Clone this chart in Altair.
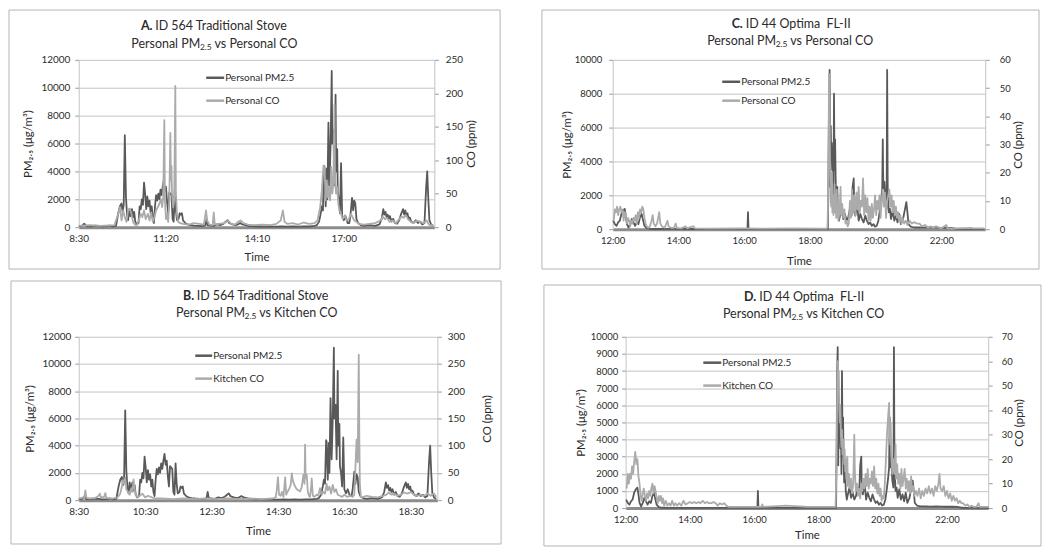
import altair as alt
import pandas as pd

# ---------------- data: (minutes after midnight, value) ----------------
PM_564 = [
    (510, 60), (516, 100), (520, 250), (524, 80), (532, 60), (540, 120), (546, 100), (552, 50), (560, 80),
    (566, 120), (572, 60), (578, 100),
    (582, 1000), (585, 1500), (588, 1700), (590, 1100), (592, 1600), (594, 6600), (596, 2200), (598, 900),
    (600, 500), (602, 1300), (604, 800), (607, 1300), (609, 700), (611, 1100), (613, 400), (616, 200),
    (619, 300), (621, 1500), (623, 1300), (625, 2000), (627, 1600), (629, 3200), (631, 2400), (633, 1300),
    (635, 2200), (637, 1500), (639, 1900), (641, 1000), (643, 1500), (645, 600), (647, 300),
    (649, 1500), (651, 2300), (653, 1900), (655, 2400), (657, 2000), (659, 2700), (661, 2300), (663, 2900),
    (665, 3400), (667, 2600), (669, 2900), (671, 1800), (673, 1000), (675, 2500), (677, 2400), (679, 2300),
    (681, 600), (683, 400), (685, 2700), (687, 1200), (689, 500),
    (692, 600), (694, 1000), (696, 900), (698, 1000), (700, 500), (704, 300), (708, 200), (714, 150),
    (720, 120), (728, 100), (736, 80), (741, 150), (743, 600), (745, 150), (750, 120),
    (756, 100), (762, 200), (768, 150), (774, 250), (778, 400), (781, 500), (784, 300), (790, 200),
    (796, 150), (800, 200), (804, 300), (808, 200), (814, 150), (820, 80), (830, 60), (840, 50), (850, 40),
    (860, 40), (870, 40), (880, 50), (890, 40), (900, 50), (910, 40), (920, 60), (930, 50), (940, 100),
    (944, 150), (948, 400), (951, 1000), (953, 1500), (955, 1200), (957, 4400), (958, 4300), (960, 1500),
    (962, 4200), (963, 2000), (965, 7500), (967, 3000), (969, 6000), (971, 11200), (972, 6000), (974, 7000),
    (976, 3000), (978, 9500), (979, 4000), (981, 5600), (982, 2500), (984, 2000), (986, 1000), (988, 4600),
    (990, 800), (993, 500), (996, 800), (1000, 300),
    (1003, 300), (1005, 800), (1008, 2100), (1010, 1200), (1012, 1900), (1014, 1700), (1016, 600),
    (1019, 300), (1024, 150), (1030, 100), (1040, 150), (1050, 100), (1058, 200), (1062, 600), (1065, 1300),
    (1067, 900), (1069, 1100), (1071, 700), (1073, 900), (1075, 600), (1077, 800), (1080, 400), (1083, 600),
    (1086, 300), (1090, 250), (1094, 500), (1097, 900), (1099, 1100), (1101, 1300), (1103, 900), (1105, 1200),
    (1107, 800), (1109, 1000), (1111, 600), (1113, 700), (1116, 400), (1120, 300), (1124, 500), (1128, 300),
    (1132, 400), (1136, 200), (1140, 300), (1143, 2800), (1145, 4000), (1147, 2000), (1149, 500),
    (1152, 200), (1156, 100),
]

CO_PERSONAL_564 = [
    (510, 2), (530, 3), (550, 2), (575, 3), (582, 20), (585, 30), (588, 10), (591, 25), (594, 15), (597, 8),
    (600, 25), (603, 28), (606, 20), (609, 8), (612, 4), (616, 3), (620, 12), (623, 20), (626, 15), (629, 25),
    (632, 12), (636, 20), (639, 10), (642, 22), (645, 8), (648, 15), (651, 25), (654, 30), (657, 35), (660, 42),
    (662, 30), (664, 45), (666, 160), (667, 40), (669, 12), (671, 20), (673, 8), (675, 40), (677, 141),
    (678, 70), (679, 92), (680, 52), (682, 30), (684, 40), (686, 211), (687, 52), (689, 20), (691, 8),
    (695, 6), (700, 5), (710, 4), (720, 6), (730, 5), (738, 4), (742, 25), (744, 10), (748, 4), (754, 3),
    (756, 22), (758, 4), (765, 5), (775, 6), (782, 10), (788, 5), (795, 4), (800, 8), (805, 10), (810, 6),
    (818, 4), (830, 3), (845, 4), (860, 3), (870, 5), (878, 10), (882, 25), (885, 8), (890, 5), (900, 6),
    (910, 4), (920, 7), (930, 5), (940, 6), (945, 10), (950, 30), (953, 55), (956, 92), (958, 88), (960, 40),
    (962, 70), (964, 45), (966, 60), (968, 40), (970, 90), (972, 50), (974, 65), (976, 183), (977, 70),
    (979, 50), (981, 60), (983, 35), (985, 25), (988, 20), (991, 12), (995, 18), (998, 10), (1002, 12),
    (1006, 20), (1009, 15), (1012, 10), (1016, 8), (1020, 5), (1030, 4), (1040, 5), (1050, 6), (1060, 10),
    (1064, 16), (1068, 12), (1072, 14), (1076, 8), (1082, 10), (1088, 6), (1094, 12), (1098, 16), (1102, 14),
    (1106, 18), (1110, 12), (1115, 8), (1120, 6), (1126, 10), (1132, 8), (1138, 6), (1144, 10), (1148, 4),
    (1152, 3), (1156, 2),
]

CO_KITCHEN_564 = [
    (510, 3), (516, 4), (520, 6), (522, 18), (524, 4), (530, 3), (540, 4), (546, 8), (548, 12), (550, 5),
    (556, 6), (558, 13), (560, 4), (570, 3), (580, 5), (585, 12), (588, 25), (590, 37), (592, 30), (594, 41),
    (596, 20), (599, 15), (602, 10), (605, 22), (607, 15), (609, 38), (611, 20), (613, 10), (616, 6),
    (620, 8), (625, 12), (630, 5), (635, 8), (640, 6), (645, 4), (650, 3), (660, 3), (680, 2), (700, 3),
    (720, 2), (740, 3), (760, 2), (780, 3), (800, 2), (820, 3), (840, 2), (860, 3), (866, 5), (868, 20),
    (870, 42), (872, 10), (875, 8), (877, 15), (880, 6), (883, 42), (885, 10), (887, 15), (890, 20),
    (893, 28), (895, 49), (897, 35), (899, 30), (901, 25), (904, 20), (907, 18), (910, 16), (913, 24),
    (916, 47), (918, 30), (919, 102), (920, 40), (922, 47), (924, 15), (926, 8), (928, 6), (930, 25),
    (931, 40), (933, 8), (936, 6), (940, 10), (943, 8), (946, 22), (949, 10), (952, 15), (955, 12),
    (958, 30), (960, 18), (963, 25), (966, 12), (969, 28), (972, 15), (975, 20), (978, 10), (982, 8),
    (986, 6), (990, 10), (995, 6), (1000, 8), (1005, 6), (1008, 10), (1010, 60), (1012, 111), (1014, 70),
    (1016, 267), (1017, 120), (1018, 30), (1020, 5), (1025, 6), (1030, 8), (1040, 6), (1050, 5), (1060, 8),
    (1066, 10), (1070, 14), (1075, 10), (1080, 12), (1086, 8), (1092, 10), (1098, 14), (1104, 12),
    (1110, 15), (1116, 10), (1122, 8), (1128, 10), (1134, 8), (1140, 12), (1146, 8), (1152, 12), (1156, 6),
]

PM_44 = [
    (721, 500), (724, 300), (727, 200), (730, 400), (733, 500), (736, 900), (739, 1100), (742, 1200),
    (744, 800), (746, 300), (749, 100), (752, 300), (755, 600), (758, 400), (761, 200), (764, 400),
    (767, 300), (770, 700), (773, 900), (775, 600), (778, 200), (782, 60), (788, 20), (800, 10), (830, 15),
    (860, 10), (900, 10), (940, 15), (966, 10), (967, 1000), (968, 10), (1000, 10), (1050, 15), (1100, 10),
    (1110, 15), (1113, 20),
    (1114, 3700), (1115, 8000), (1116, 9400), (1117, 2500), (1118, 6100), (1119, 4000), (1120, 5100),
    (1121, 3500), (1122, 4500), (1123, 2000), (1124, 8000), (1125, 3500), (1126, 5300), (1127, 3000),
    (1128, 1500), (1130, 2500), (1131, 1000), (1133, 500), (1135, 800), (1138, 1200), (1141, 600),
    (1144, 900), (1147, 500), (1150, 700), (1153, 1200), (1156, 800), (1158, 2500), (1160, 3000),
    (1161, 1000), (1163, 800), (1166, 1500), (1169, 500), (1172, 900), (1175, 600), (1178, 400),
    (1181, 800), (1184, 500), (1187, 300), (1190, 400), (1193, 200), (1196, 300), (1199, 150), (1202, 200),
    (1205, 500), (1208, 1200), (1210, 1700), (1212, 2400), (1213, 5300), (1214, 2400), (1216, 2800),
    (1218, 1600), (1220, 1200), (1221, 9400), (1222, 2500), (1224, 1000), (1226, 1200), (1228, 600),
    (1231, 1100), (1234, 500), (1237, 800), (1240, 400), (1243, 900), (1246, 300), (1250, 600),
    (1253, 1100), (1256, 1600), (1258, 1000), (1260, 300), (1264, 150), (1270, 100), (1280, 100),
    (1290, 90), (1300, 100), (1310, 90), (1320, 80), (1330, 80), (1340, 70), (1346, 30), (1350, 20),
    (1360, 15), (1370, 15), (1380, 10), (1390, 10), (1398, 10),
]

CO_PERSONAL_44 = [
    (722, 3), (724, 7), (726, 6), (728, 8), (730, 5), (732, 7), (734, 8), (736, 6), (738, 7), (740, 3),
    (742, 6), (744, 5), (746, 2), (748, 4), (750, 3), (752, 1), (754, 3), (756, 2), (758, 4), (760, 3),
    (762, 5), (764, 2), (766, 6), (768, 4), (770, 7), (772, 6), (774, 8), (776, 7), (778, 4), (780, 2),
    (782, 1), (785, 0.5), (788, 1), (791, 3), (793, 5), (795, 2), (798, 1), (801, 2), (803, 4), (805, 6),
    (807, 2), (810, 1), (815, 0.5), (818, 2), (820, 3), (822, 1), (826, 0.5), (832, 0.5), (835, 2),
    (837, 0.5), (845, 0.3), (853, 1), (856, 0.3), (866, 1), (868, 1), (870, 0.3), (900, 0.2), (950, 0.3),
    (1000, 0.2), (1050, 0.3), (1100, 0.2), (1110, 0.2),
    (1112, 0.5), (1113, 8), (1114, 30), (1115, 55), (1116, 40), (1117, 20), (1118, 10), (1119, 8),
    (1120, 20), (1121, 6), (1122, 12), (1123, 5), (1124, 10), (1125, 16), (1126, 6), (1127, 12), (1128, 4),
    (1129, 14), (1130, 5), (1131, 9), (1132, 3), (1134, 6), (1136, 15), (1137, 5), (1139, 9), (1141, 4),
    (1143, 7), (1145, 2), (1147, 3), (1149, 1), (1151, 2), (1153, 10), (1155, 4), (1157, 14), (1159, 6),
    (1161, 12), (1163, 5), (1165, 13), (1167, 7), (1169, 15), (1171, 6), (1173, 10), (1175, 8), (1177, 18),
    (1179, 5), (1181, 12), (1183, 6), (1185, 11), (1187, 3), (1189, 8), (1191, 3), (1193, 9), (1195, 4),
    (1197, 7), (1199, 12), (1201, 5), (1203, 10), (1205, 7), (1207, 12), (1209, 4), (1211, 10), (1213, 14),
    (1215, 8), (1217, 13), (1219, 4), (1221, 10), (1223, 12), (1225, 14), (1227, 8), (1229, 12), (1231, 6),
    (1233, 10), (1235, 5), (1237, 8), (1239, 4), (1241, 6), (1243, 3), (1245, 5), (1247, 2), (1249, 4),
    (1252, 2), (1255, 3), (1258, 1.5), (1262, 3), (1266, 2), (1270, 2.5), (1275, 2), (1280, 2), (1285, 1),
    (1290, 1.5), (1296, 0.5), (1300, 1), (1305, 0.5), (1310, 1), (1320, 0.3), (1329, 1.5), (1331, 0.3),
    (1345, 0.3), (1375, 0.5), (1377, 0.3), (1398, 0.3),
]

CO_KITCHEN_44 = [
    (722, 8), (724, 14), (726, 10), (728, 14), (730, 12), (732, 17), (734, 14), (736, 19), (738, 23),
    (740, 18), (742, 20), (744, 13), (746, 10), (748, 5), (750, 3), (752, 6), (754, 8), (756, 5), (758, 3),
    (760, 6), (762, 4), (764, 7), (766, 5), (768, 8), (770, 10), (772, 6), (774, 9), (776, 7), (778, 4),
    (780, 2), (782, 5), (784, 3), (786, 5), (788, 2), (790, 4), (792, 1), (795, 3), (798, 1), (801, 2),
    (804, 1), (807, 3), (810, 1), (813, 2), (816, 1), (820, 2), (824, 1), (828, 3), (832, 1.5), (836, 2),
    (840, 2.5), (844, 2), (848, 2.5), (852, 2), (856, 2.5), (860, 2), (864, 3), (868, 2), (872, 2.5),
    (876, 2), (880, 2), (884, 2.5), (888, 2), (892, 1), (896, 2), (900, 1.5), (904, 2), (908, 1), (912, 0.5),
    (940, 0.5), (974, 0.5), (975, 1.5), (977, 0.5), (1020, 1), (1060, 0.5), (1110, 0.5),
    (1112, 0.5), (1114, 20), (1115, 45), (1116, 60), (1117, 50), (1118, 56), (1119, 40), (1120, 35),
    (1121, 42), (1122, 30), (1123, 25), (1124, 32), (1125, 22), (1126, 25), (1127, 28), (1128, 18),
    (1129, 24), (1130, 15), (1131, 20), (1132, 12), (1134, 21), (1135, 9), (1137, 14), (1139, 8), (1141, 12),
    (1143, 6), (1145, 10), (1147, 30), (1148, 15), (1150, 7), (1152, 10), (1154, 5), (1156, 8), (1158, 4),
    (1160, 10), (1162, 7), (1164, 12), (1166, 8), (1168, 14), (1170, 9), (1172, 16), (1174, 8), (1176, 12),
    (1178, 10), (1180, 15), (1182, 9), (1184, 17), (1186, 8), (1188, 12), (1190, 6), (1192, 10), (1194, 5),
    (1196, 8), (1198, 3), (1200, 5), (1202, 4), (1204, 10), (1206, 20), (1208, 30), (1210, 37), (1212, 43),
    (1213, 30), (1214, 26), (1215, 35), (1216, 22), (1218, 14), (1220, 20), (1222, 14), (1224, 26),
    (1225, 12), (1227, 18), (1229, 10), (1231, 14), (1233, 8), (1235, 16), (1237, 9), (1239, 12),
    (1241, 16), (1243, 8), (1245, 12), (1247, 7), (1249, 11), (1251, 6), (1253, 13), (1255, 7), (1257, 9),
    (1259, 5), (1262, 7), (1265, 5), (1268, 8), (1271, 4), (1274, 7), (1277, 5), (1280, 8), (1283, 6),
    (1286, 9), (1289, 6), (1292, 8), (1295, 5), (1298, 9), (1301, 7), (1304, 10), (1306, 14), (1308, 8),
    (1311, 7), (1314, 9), (1317, 5), (1320, 7), (1323, 4), (1326, 6), (1329, 3), (1332, 5), (1335, 3),
    (1338, 4), (1341, 2), (1344, 3), (1347, 2), (1350, 2), (1354, 1), (1358, 1.5), (1362, 0.5), (1366, 1),
    (1370, 0.5), (1375, 0.5), (1379, 2), (1381, 0.5), (1390, 0.5), (1398, 0.5),
]

# tick positions (minutes) and their printed labels
TICKS_A = [510, 668, 835, 993]
LABELS_A = ["8:30", "11:20", "14:10", "17:00"]
TICKS_B = [510, 630, 750, 870, 990, 1110]
LABELS_B = ["8:30", "10:30", "12:30", "14:30", "16:30", "18:30"]
TICKS_CD = [720, 840, 960, 1080, 1200, 1320]
LABELS_CD = ["12:00", "14:00", "16:00", "18:00", "20:00", "22:00"]

# ---------------- styling ----------------
FONT = "Lato"
DARK = "#595959"
LIGHT = "#ababab"
GRID = "#c4c4c4"
BOX = "#b4b4b4"
TXT = "#2b2b2b"
ONE = pd.DataFrame({"k": [0]})

CW = {' ': 0.193, 'A': 0.68, 'B': 0.63, 'C': 0.66, 'D': 0.74, 'F': 0.5, 'I': 0.27, 'K': 0.62, 'L': 0.46,
      'M': 0.87, 'O': 0.79, 'P': 0.6, 'S': 0.5, 'T': 0.53, 'a': 0.5, 'c': 0.45, 'd': 0.57, 'e': 0.53,
      'h': 0.57, 'i': 0.25, 'k': 0.5, 'l': 0.25, 'm': 0.86, 'n': 0.57, 'o': 0.57, 'p': 0.57, 'r': 0.36,
      's': 0.42, 't': 0.35, 'v': 0.49, '-': 0.32, '.': 0.23, '\u00a0': 0.193}


def tw(s, size, bold=False):
    return sum(CW.get(ch, 0.58) for ch in s) * size * (1.05 if bold else 1.0)


def label_expr(pos, labs):
    e = "''"
    for p, l in reversed(list(zip(pos, labs))):
        e = f"(datum.value == {p} ? '{l}' : {e})"
    return e


def txt(x, y, s, size, bold=False, align="left", color=TXT):
    return alt.Chart(ONE).mark_text(
        text=s, font=FONT, fontSize=size, fontWeight="bold" if bold else "normal",
        align=align, baseline="middle", color=color
    ).encode(x=alt.value(x), y=alt.value(y))


def panel(c):
    w, h = c["w"], c["h"]
    xaxis = alt.Axis(
        values=c["ticks"], labelExpr=label_expr(c["ticks"], c["labels"]), title="Time",
        grid=False, ticks=False, tickSize=0, domainColor="#8c8c8c", domainWidth=3,
        labelFont=FONT, labelFontSize=c["fs"], labelColor=TXT, labelPadding=6,
        labelFlush=False, labelOverlap=False, labelBound=False,
        titleFont=FONT, titleFontSize=11.5, titleFontWeight="normal", titleColor=TXT,
        titleY=c["time_y"], titleBaseline="middle",
    )
    xenc = alt.X("t:Q", scale=alt.Scale(domain=c["xdom"], nice=False, zero=False), axis=xaxis)

    pm_df = pd.DataFrame(c["pm"], columns=["t", "v"])
    co_df = pd.DataFrame(c["co"], columns=["t", "c"])

    pm = alt.Chart(pm_df).mark_line(color=DARK, strokeWidth=1.8, strokeJoin="round").encode(
        x=xenc,
        y=alt.Y("v:Q", scale=alt.Scale(domain=[0, c["pm_max"]], nice=False),
                axis=alt.Axis(orient="left", values=list(range(0, c["pm_max"] + 1, c["pm_step"])), format="d",
                              grid=True, gridColor=GRID, domainColor=GRID, tickColor="#9a9a9a", tickSize=4,
                              labelFont=FONT, labelFontSize=c["fs"], labelColor=TXT, labelPadding=c["lpad"],
                              title="PM\u2082.\u2085 (\u03bcg/m\u00b3)", titleFont=FONT, titleFontSize=11.5,
                              titleFontWeight="normal", titleColor=TXT, titleX=c["ltx"], titleY=h / 2,
                              titleAngle=270, titleAlign="center", titleBaseline="middle")),
    )
    co = alt.Chart(co_df).mark_line(color=LIGHT, strokeWidth=1.8, strokeJoin="round").encode(
        x=xenc,
        y=alt.Y("c:Q", scale=alt.Scale(domain=[0, c["co_max"]], nice=False),
                axis=alt.Axis(orient="right", values=list(range(0, c["co_max"] + 1, c["co_step"])), format="d",
                              grid=False, domainColor=GRID, tickColor="#9a9a9a", tickSize=4,
                              labelFont=FONT, labelFontSize=c["fs"], labelColor=TXT, labelPadding=c["rpad"],
                              title="CO (ppm)", titleFont=FONT, titleFontSize=11.5, titleFontWeight="normal",
                              titleColor=TXT, titleX=c["rtx"], titleY=h / 2, titleAngle=270,
                              titleAlign="center", titleBaseline="middle")),
    )

    bx0, by0, bx1, by1 = c["box"]
    box = alt.Chart(ONE).mark_rect(fillOpacity=0, stroke=BOX, strokeWidth=1).encode(
        x=alt.value(bx0), x2=alt.value(bx1), y=alt.value(by0), y2=alt.value(by1))

    lx0, lx1, ly1, ly2 = c["leg"]
    legend = [
        alt.Chart(ONE).mark_rule(color=DARK, strokeWidth=2.5).encode(
            x=alt.value(lx0), x2=alt.value(lx1), y=alt.value(ly1)),
        alt.Chart(ONE).mark_rule(color=LIGHT, strokeWidth=2.5).encode(
            x=alt.value(lx0), x2=alt.value(lx1), y=alt.value(ly2)),
        txt(lx1 + 1, ly1, "Personal PM2.5", 10),
        txt(lx1 + 1, ly2, c["leg2"], 10),
    ]

    # two-line title: bold panel letter, subscripted "2.5"
    fs = 12.5
    fsub = 8.5
    cx = c["tcx"]
    y1, y2 = c["ty"]
    wa = tw(c["letter"], fs, True)
    wsp = tw(" ", fs)
    wb = tw(c["head"], fs)
    s1 = cx - (wa + wsp + wb) / 2
    w1 = tw("Personal PM", fs)
    w2 = tw("2.5", fsub)
    w3 = tw(c["vs"], fs)
    s2 = cx - (w1 + w2 + wsp + w3) / 2
    titles = [
        txt(s1, y1, c["letter"], fs, bold=True),
        txt(s1 + wa + wsp, y1, c["head"], fs),
        txt(s2, y2, "Personal PM", fs),
        txt(s2 + w1 + 0.5, y2 + 3.5, "2.5", fsub),
        txt(s2 + w1 + w2 + wsp + 1, y2, c["vs"], fs),
    ]

    return alt.layer(box, pm, co, *legend, *titles).resolve_scale(y="independent").properties(width=w, height=h)


A = panel(dict(letter="A.", head="ID 564 Traditional Stove", vs="vs Personal CO", leg2="Personal CO",
               pm=PM_564, co=CO_PERSONAL_564, xdom=[510, 1158], ticks=TICKS_A, labels=LABELS_A,
               pm_max=12000, pm_step=2000, co_max=250, co_step=50, w=357, h=168, fs=10,
               box=(-70, -50, 357 + 66, 168 + 42), tcx=135, ty=(-34, -16), leg=(128, 146, 18, 41),
               ltx=-50, rtx=37, lpad=5, rpad=7, time_y=30))
B = panel(dict(letter="B.", head="ID 564 Traditional Stove", vs="vs Kitchen CO", leg2="Kitchen CO",
               pm=PM_564, co=CO_KITCHEN_564, xdom=[510, 1158], ticks=TICKS_B, labels=LABELS_B,
               pm_max=12000, pm_step=2000, co_max=300, co_step=50, w=360, h=164, fs=10,
               box=(-68, -56, 360 + 64, 164 + 44), tcx=177, ty=(-41, -24), leg=(117, 134, 19, 42),
               ltx=-48, rtx=50, lpad=4, rpad=6, time_y=31))
C = panel(dict(letter="C.", head="ID 44 Optima\u00a0 FL-II", vs="vs Personal CO", leg2="Personal CO",
               pm=PM_44, co=CO_PERSONAL_44, xdom=[720, 1400], ticks=TICKS_CD, labels=LABELS_CD,
               pm_max=10000, pm_step=2000, co_max=60, co_step=10, w=374, h=170, fs=9.5,
               box=(-71, -50, 374 + 54, 170 + 40), tcx=177, ty=(-36, -19), leg=(110, 128, 22, 41),
               ltx=-45, rtx=33, lpad=7, rpad=10, time_y=32))
D = panel(dict(letter="D.", head="ID 44 Optima\u00a0 FL-II", vs="vs Kitchen CO", leg2="Kitchen CO",
               pm=PM_44, co=CO_KITCHEN_44, xdom=[720, 1397], ticks=TICKS_CD, labels=LABELS_CD,
               pm_max=10000, pm_step=1000, co_max=70, co_step=10, w=364, h=172, fs=9.5,
               box=(-82, -52, 364 + 53, 172 + 38), tcx=177, ty=(-40, -23), leg=(78, 96, 26, 49),
               ltx=-44, rtx=31, lpad=4, rpad=9, time_y=28))

chart = alt.vconcat(
    alt.hconcat(A, C, spacing=40),
    alt.hconcat(B, D, spacing=41),
    spacing=10,
).properties(padding=0, background="white").configure_view(stroke=None)

chart.save("out.html", embed_options={"renderer": "svg", "actions": False})
